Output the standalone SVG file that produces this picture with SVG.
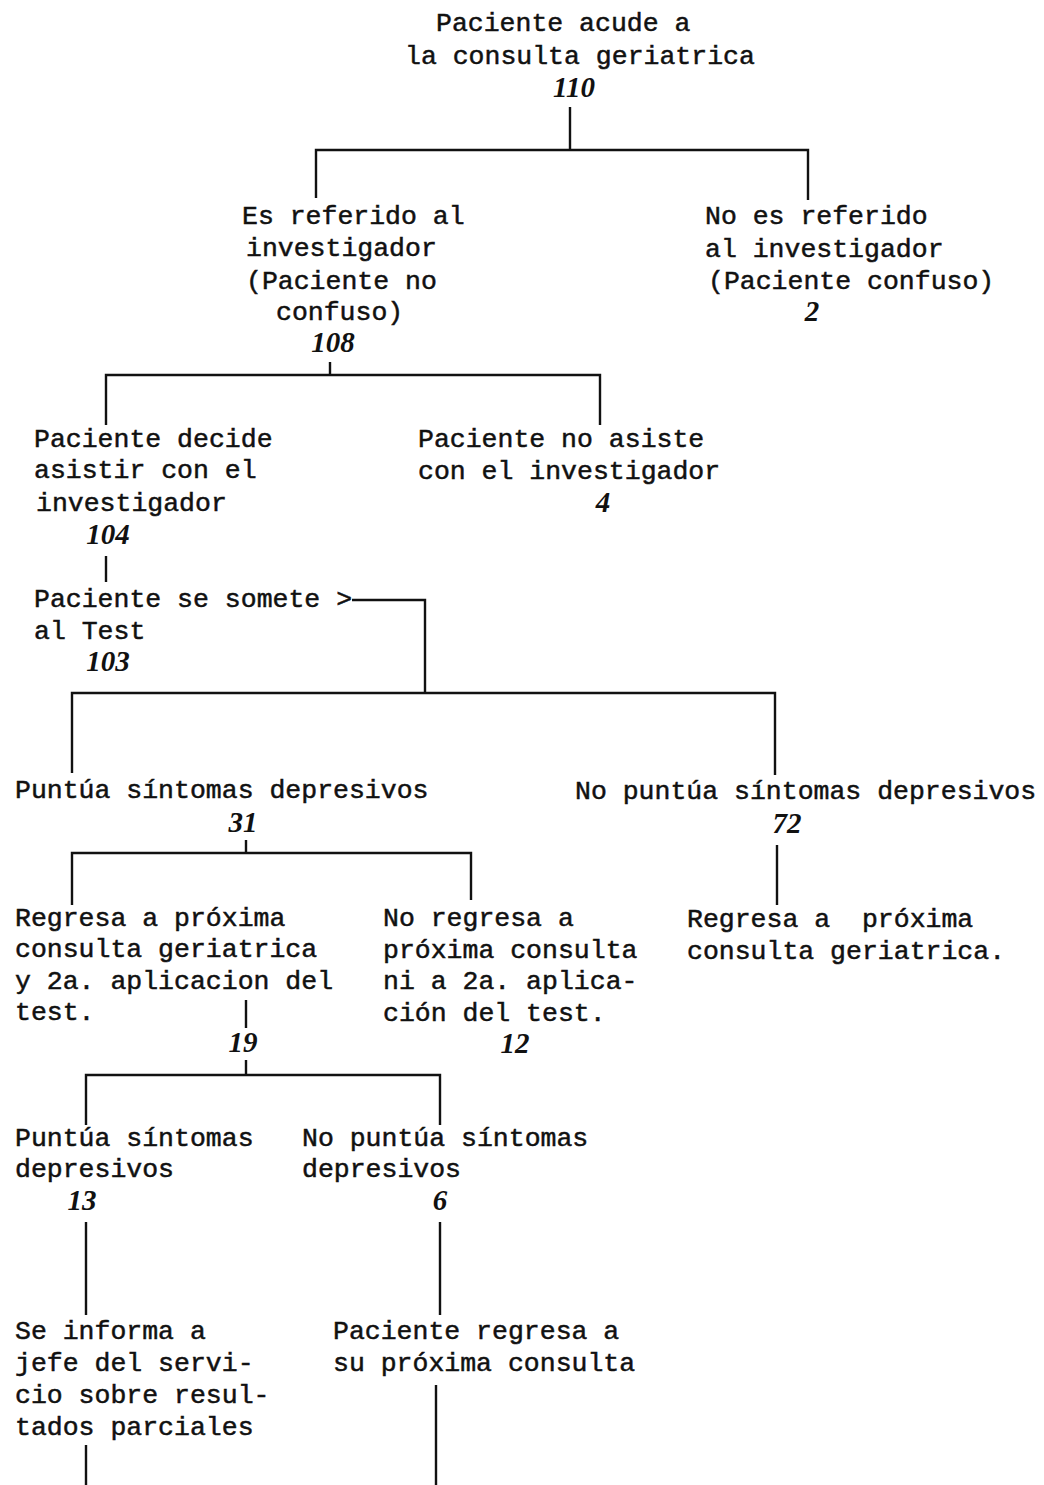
<svg xmlns="http://www.w3.org/2000/svg" width="1044" height="1485" viewBox="0 0 1044 1485">
<style>
.t{font-family:"Liberation Mono","Courier New",monospace;font-size:26.5px;fill:#111;stroke:#111;stroke-width:0.5;white-space:pre}
.n{font-family:"Liberation Serif","Times New Roman",serif;font-size:29px;font-style:italic;font-weight:bold;fill:#111;text-anchor:middle}
.c{stroke:#111;stroke-width:2.4;fill:none}
</style>
<rect width="1044" height="1485" fill="#ffffff"/>
<g id="connectors" class="c">
<path d="M570 107V150M316 198V150H808V200"/>
<path d="M330 362V375M106 425V375H600V425"/>
<path d="M106 556V582"/>
<path d="M352 600H425V693M72 773V693H775V775"/>
<path d="M246 840V853M72 905V853H471V900"/>
<path d="M777 845V905"/>
<path d="M246 1000V1028M246 1060V1075M86 1125V1075H440V1125"/>
<path d="M86 1222V1315M440 1222V1315"/>
<path d="M86 1445V1485M436 1385V1485"/>
</g>
<g id="n1">
<text class="t" x="436" y="31">Paciente acude a</text>
<text class="t" x="405" y="64">la consulta geriatrica</text>
<text class="n" x="574" y="97">110</text>
</g>
<g id="n2">
<text class="t" x="242" y="224">Es referido al</text>
<text class="t" x="246" y="256">investigador</text>
<text class="t" x="246" y="289">(Paciente no</text>
<text class="t" x="276" y="320">confuso)</text>
<text class="n" x="333" y="352">108</text>
</g>
<g id="n3">
<text class="t" x="705" y="224">No es referido</text>
<text class="t" x="705" y="257">al investigador</text>
<text class="t" x="708" y="289">(Paciente confuso)</text>
<text class="n" x="812" y="321">2</text>
</g>
<g id="n4">
<text class="t" x="34" y="447">Paciente decide</text>
<text class="t" x="34" y="478">asistir con el</text>
<text class="t" x="36" y="511">investigador</text>
<text class="n" x="108" y="544">104</text>
</g>
<g id="n5">
<text class="t" x="418" y="447">Paciente no asiste</text>
<text class="t" x="418" y="479">con el investigador</text>
<text class="n" x="603" y="512">4</text>
</g>
<g id="n6">
<text class="t" x="34" y="607">Paciente se somete &gt;</text>
<text class="t" x="34" y="639">al Test</text>
<text class="n" x="108" y="671">103</text>
</g>
<g id="n7">
<text class="t" x="15" y="798">Puntúa síntomas depresivos</text>
<text class="n" x="243" y="832">31</text>
</g>
<g id="n8">
<text class="t" x="575" y="799">No puntúa síntomas depresivos</text>
<text class="n" x="787" y="833">72</text>
</g>
<g id="n9">
<text class="t" x="15" y="926">Regresa a próxima</text>
<text class="t" x="15" y="957">consulta geriatrica</text>
<text class="t" x="15" y="989">y 2a. aplicacion del</text>
<text class="t" x="15" y="1020">test.</text>
<text class="n" x="243" y="1052">19</text>
</g>
<g id="n10">
<text class="t" x="383" y="926">No regresa a</text>
<text class="t" x="383" y="958">próxima consulta</text>
<text class="t" x="383" y="989">ni a 2a. aplica-</text>
<text class="t" x="383" y="1021">ción del test.</text>
<text class="n" x="515" y="1053">12</text>
</g>
<g id="n11">
<text class="t" x="687" y="927">Regresa a  próxima</text>
<text class="t" x="687" y="959">consulta geriatrica.</text>
</g>
<g id="n12">
<text class="t" x="15" y="1146">Puntúa síntomas</text>
<text class="t" x="15" y="1177">depresivos</text>
<text class="n" x="82" y="1210">13</text>
</g>
<g id="n13">
<text class="t" x="302" y="1146">No puntúa síntomas</text>
<text class="t" x="302" y="1177">depresivos</text>
<text class="n" x="440" y="1210">6</text>
</g>
<g id="n14">
<text class="t" x="15" y="1339">Se informa a</text>
<text class="t" x="15" y="1371">jefe del servi-</text>
<text class="t" x="15" y="1403">cio sobre resul-</text>
<text class="t" x="15" y="1435">tados parciales</text>
</g>
<g id="n15">
<text class="t" x="333" y="1339">Paciente regresa a</text>
<text class="t" x="333" y="1371">su próxima consulta</text>
</g>
</svg>
